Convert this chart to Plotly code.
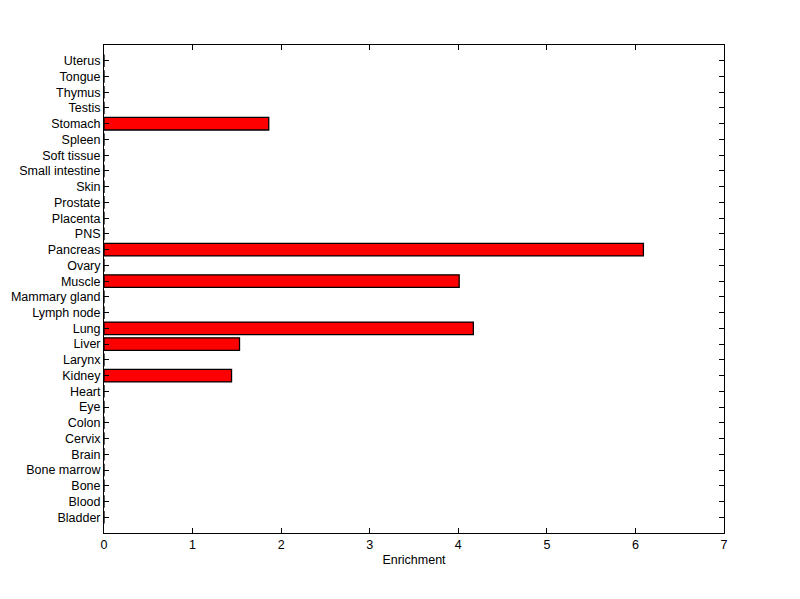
import plotly.graph_objects as go

tissues = ["Bladder", "Blood", "Bone", "Bone marrow", "Brain", "Cervix", "Colon", "Eye",
           "Heart", "Kidney", "Larynx", "Liver", "Lung", "Lymph node", "Mammary gland",
           "Muscle", "Ovary", "Pancreas", "PNS", "Placenta", "Prostate", "Skin",
           "Small intestine", "Soft tissue", "Spleen", "Stomach", "Testis", "Thymus",
           "Tongue", "Uterus"]
enrichment = [0, 0, 0, 0, 0, 0, 0, 0,
              0, 1.44, 0, 1.53, 4.17, 0, 0,
              4.01, 0, 6.09, 0, 0, 0, 0,
              0, 0, 0, 1.86, 0, 0,
              0, 0]
x_ticks = [0, 1, 2, 3, 4, 5, 6, 7]

fig = go.Figure()
fig.add_trace(go.Bar(
    x=enrichment, y=list(range(len(tissues))), orientation="h",
    width=0.8,
    marker=dict(color="#ff0000", line=dict(color="black", width=1.3)),
    hoverinfo="x+text", text=tissues, textposition="none",
))

font = dict(family="Liberation Sans, Arial, sans-serif", size=12.5, color="black")
fig.update_layout(
    width=792, height=591,
    margin=dict(l=96, r=76, t=37, b=66, autoexpand=False),
    paper_bgcolor="white", plot_bgcolor="white",
    font=font, showlegend=False,
    xaxis=dict(range=[0, 7], tickvals=x_ticks, ticks="inside", ticklen=5,
               tickcolor="black", showline=True, linecolor="black", linewidth=1,
               mirror="allticks", showgrid=False, zeroline=False,
               title=dict(text="Enrichment", font=font, standoff=4)),
    yaxis=dict(range=[-1, len(tissues)], tickvals=list(range(len(tissues))),
               ticktext=tissues, ticks="inside", ticklen=5, tickcolor="black",
               showline=True, linecolor="black", linewidth=1, mirror="allticks",
               showgrid=False, zeroline=False, automargin=False),
)
fig.write_html("out.html")
